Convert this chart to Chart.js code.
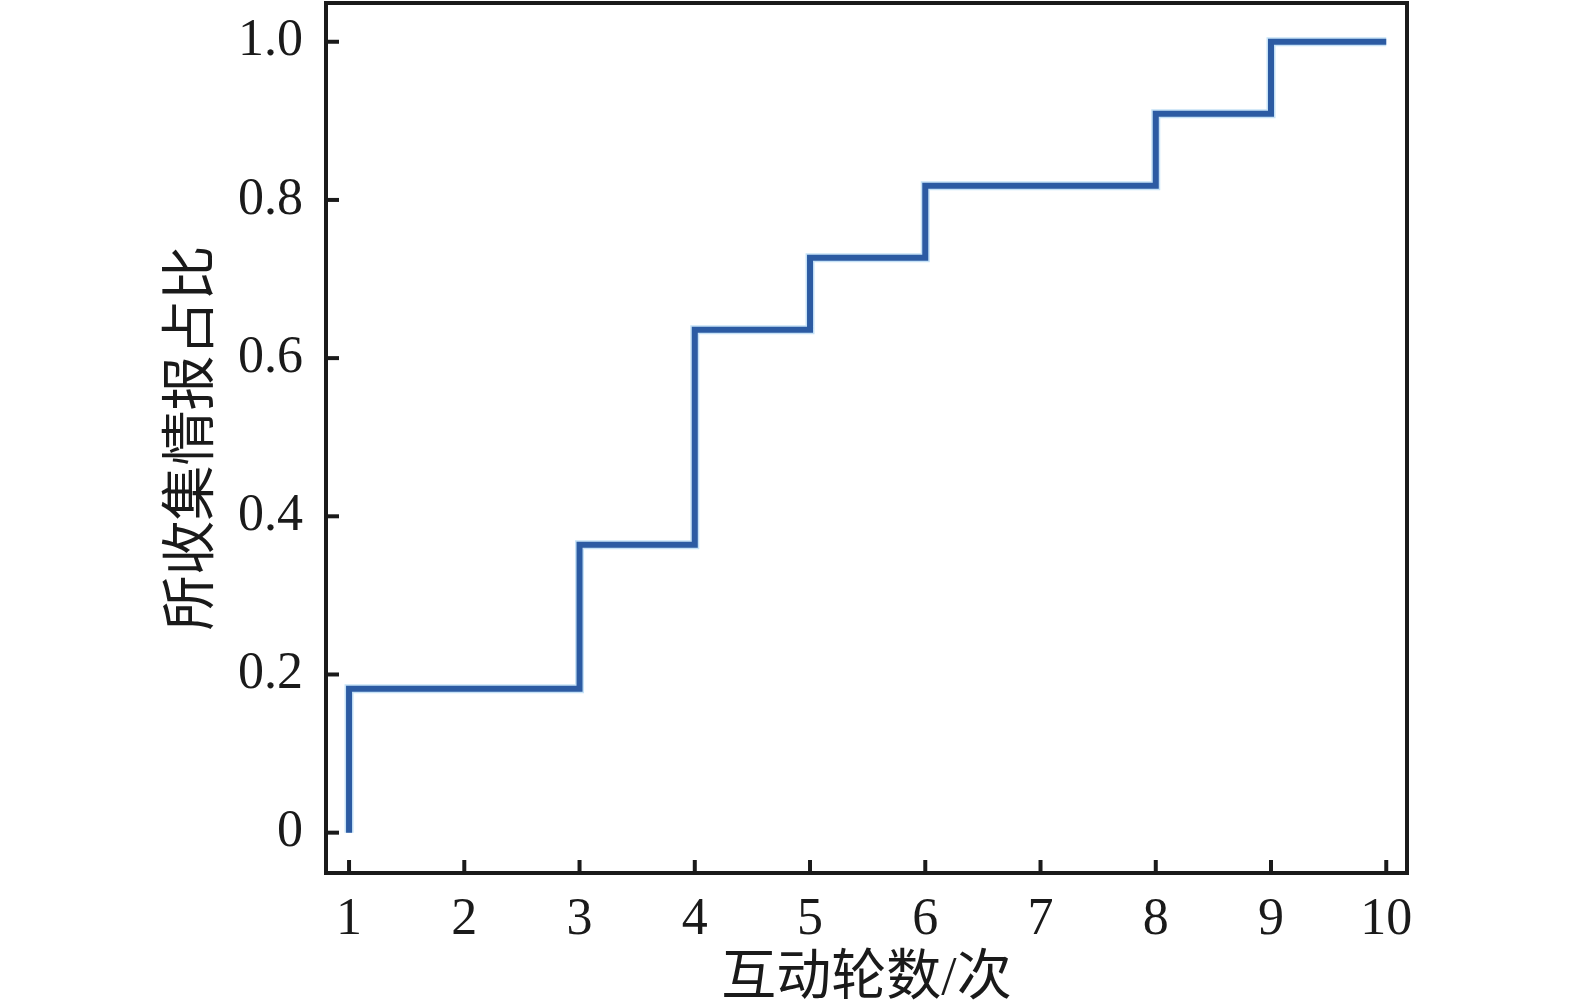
<!DOCTYPE html>
<html>
<head>
<meta charset="utf-8">
<script src="https://cdn.jsdelivr.net/npm/chart.js@4/dist/chart.umd.min.js"></script>
<style>
  html, body { margin: 0; padding: 0; background: #fff; }
  #wrap { width: 1575px; height: 1007px; }
</style>
</head>
<body>
<div id="wrap"><canvas id="chart1" width="1575" height="1007"></canvas></div>
<script>
// data
var rounds = [1, 1, 3, 4, 5, 6, 8, 9, 10];
var share = [0, 0.182, 0.364, 0.636, 0.727, 0.818, 0.909, 1.0, 1.0];
var xTicks = [1, 2, 3, 4, 5, 6, 7, 8, 9, 10];
var yTicks = [0, 0.2, 0.4, 0.6, 0.8, 1.0];
var xTitle = '互动轮数/次';
var yTitle = '所收集情报占比';

var points = rounds.map(function(r, i) { return { x: r, y: share[i] }; });

var serif = "'Liberation Serif', 'Times New Roman', 'Noto Sans CJK SC', serif";
var ink = '#1a1a1a';

// frame + inward ticks
var framePlugin = {
  id: 'frame',
  afterDraw: function(chart) {
    var c = chart.ctx, a = chart.chartArea;
    var xs = chart.scales.x, ys = chart.scales.y;
    c.save();
    c.strokeStyle = ink;
    c.lineWidth = 4;
    xTicks.forEach(function(t) {
      var px = xs.getPixelForValue(t);
      c.beginPath(); c.moveTo(px, a.bottom); c.lineTo(px, a.bottom - 13); c.stroke();
    });
    yTicks.forEach(function(t) {
      var py = ys.getPixelForValue(t);
      c.beginPath(); c.moveTo(a.left, py); c.lineTo(a.left + 13, py); c.stroke();
    });
    c.strokeRect(a.left, a.top, a.right - a.left, a.bottom - a.top);
    c.restore();
  }
};

var ctx = document.getElementById('chart1').getContext('2d');
var myChart = new Chart(ctx, {
  type: 'line',
  data: {
    datasets: [{
      data: points,
      stepped: 'before',
      borderColor: '#2c5ba3',
      borderWidth: 6,
      pointRadius: 0,
      fill: false
    }, {
      data: points,
      stepped: 'before',
      borderColor: '#c6e2f6',
      borderWidth: 9,
      pointRadius: 0,
      fill: false
    }]
  },
  options: {
    responsive: false,
    animation: false,
    devicePixelRatio: 1,
    layout: { padding: { left: 166, top: 3, right: 168, bottom: 0 } },
    plugins: {
      legend: { display: false },
      tooltip: { enabled: false }
    },
    scales: {
      x: {
        type: 'linear',
        min: 0.8,
        max: 10.18,
        afterBuildTicks: function(s) { s.ticks = xTicks.map(function(v) { return { value: v }; }); },
        afterFit: function(s) { s.height = 134; s.paddingLeft = 0; s.paddingRight = 0; },
        grid: { display: false },
        border: { display: false },
        ticks: {
          color: ink,
          padding: 8,
          maxRotation: 0,
          font: { family: serif, size: 52 }
        },
        title: {
          display: true,
          text: xTitle,
          color: ink,
          padding: { top: 0, bottom: 0 },
          font: { family: serif, size: 55, lineHeight: 1.0 }
        }
      },
      y: {
        min: -0.051,
        max: 1.049,
        afterBuildTicks: function(s) { s.ticks = yTicks.map(function(v) { return { value: v }; }); },
        afterFit: function(s) { s.width = 160; s.paddingTop = 0; s.paddingBottom = 0; },
        grid: { display: false },
        border: { display: false },
        ticks: {
          color: ink,
          padding: 15,
          font: { family: serif, size: 52 },
          callback: function(v) { return v === 0 ? '0' : v.toFixed(1); }
        },
        title: {
          display: true,
          text: yTitle,
          color: ink,
          padding: { top: 0, bottom: 0 },
          font: { family: serif, size: 55, lineHeight: 1.0 }
        }
      }
    }
  },
  plugins: [framePlugin]
});
</script>
</body>
</html>
